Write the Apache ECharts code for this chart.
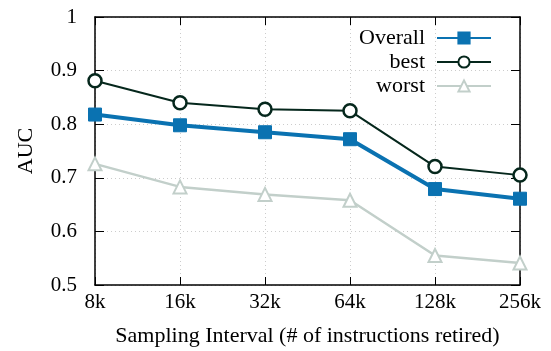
<!DOCTYPE html>
<html><head><meta charset="utf-8">
<script src="https://cdn.jsdelivr.net/npm/echarts@6/dist/echarts.min.js"></script>
<style>html,body{margin:0;padding:0;background:#fff}#c{width:551px;height:351px}</style>
</head><body><div id="c"></div>
<script>
var categories = ['8k','16k','32k','64k','128k','256k'];
var overall = [0.818, 0.798, 0.785, 0.772, 0.679, 0.661];
var best = [0.881, 0.840, 0.828, 0.825, 0.721, 0.705];
var worst = [0.726, 0.683, 0.669, 0.658, 0.555, 0.541];
var yTicks = [0.5, 0.6, 0.7, 0.8, 0.9, 1];

var F = 'Liberation Serif';
var chart = echarts.init(document.getElementById('c'), null, {renderer:'canvas'});
var gridLine = {show:true, lineStyle:{color:'#cccccc', type:[1,3], width:1}};
chart.setOption({
  animation:false,
  textStyle:{fontFamily:F},
  grid:{left:95, right:31, top:17, bottom:66, containLabel:false, outerBoundsMode:'none'},
  legend:{
    orient:'vertical', right:54, top:22, align:'right',
    itemWidth:54, itemHeight:14, itemGap:2,
    textStyle:{fontFamily:F, fontSize:22, color:'#000', padding:[0,7,4,0], lineHeight:18},
    data:['Overall','best','worst']
  },
  xAxis:[{
    type:'category', data:categories, boundaryGap:false,
    name:'Sampling Interval (# of instructions retired)', nameLocation:'middle', nameGap:40,
    nameTextStyle:{fontFamily:F, fontSize:22, color:'#000'},
    axisLine:{lineStyle:{color:'#000', width:1.5}},
    axisTick:{inside:true, length:8, lineStyle:{color:'#000'}},
    axisLabel:{fontFamily:F, fontSize:21, color:'#000', margin:7},
    splitLine:gridLine
  },{
    type:'category', data:categories, boundaryGap:false, position:'top',
    axisLine:{lineStyle:{color:'#000', width:1.5}},
    axisTick:{inside:true, length:8, lineStyle:{color:'#000'}},
    axisLabel:{show:false}, splitLine:{show:false}
  }],
  yAxis:[{
    type:'value', min:0.5, max:1, interval:0.1,
    name:'AUC', nameLocation:'middle', nameGap:58, nameRotate:90,
    nameTextStyle:{fontFamily:F, fontSize:22, color:'#000'},
    axisLine:{show:true, lineStyle:{color:'#000', width:1.5}},
    axisTick:{show:true, inside:true, length:9, lineStyle:{color:'#000'}},
    axisLabel:{fontFamily:F, fontSize:21, color:'#000', margin:18,
      formatter:function(v){ var t = yTicks.find(function(x){return Math.abs(x-v)<1e-9;}); return t===undefined?'':String(t);}},
    splitLine:gridLine
  },{
    type:'value', min:0.5, max:1, interval:0.1, position:'right',
    axisLine:{show:true, lineStyle:{color:'#000', width:1.5}},
    axisTick:{show:true, inside:true, length:9, lineStyle:{color:'#000'}},
    axisLabel:{show:false}, splitLine:{show:false}
  }],
  series:[
    {name:'worst', type:'line', data:worst, symbol:'triangle', symbolSize:13,
     lineStyle:{color:'#c2cfca', width:2.5}, itemStyle:{color:'#fff', borderColor:'#c2cfca', borderWidth:2}, z:2},
    {name:'best', type:'line', data:best, symbol:'circle', symbolSize:13,
     lineStyle:{color:'#05271c', width:2}, itemStyle:{color:'#fff', borderColor:'#05271c', borderWidth:2.5}, z:3},
    {name:'Overall', type:'line', data:overall, symbol:'rect', symbolSize:13,
     lineStyle:{color:'#0a72b1', width:4}, itemStyle:{color:'#0a72b1', borderColor:'#0a72b1', borderWidth:1}, z:4}
  ]
});
</script></body></html>
